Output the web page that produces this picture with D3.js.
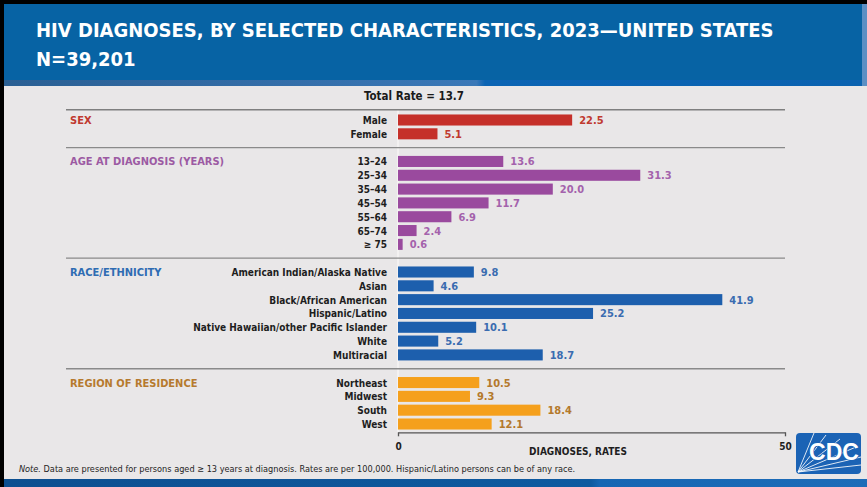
<!DOCTYPE html>
<html>
<head>
<meta charset="utf-8">
<script src="https://cdn.jsdelivr.net/npm/d3@7"></script>
<style>
  html, body { margin: 0; padding: 0; background: #000; }
  svg { display: block; }
</style>
</head>
<body>
<svg id="chart" width="867" height="487"></svg>
<script>
// ---------- DATA ----------
const titleLine1 = "HIV DIAGNOSES, BY SELECTED CHARACTERISTICS, 2023\u2014UNITED STATES";
const titleLine2 = "N=39,201";
const totalRateLabel = "Total Rate = 13.7";

const groupNames = ["SEX", "AGE AT DIAGNOSIS (YEARS)", "RACE/ETHNICITY", "REGION OF RESIDENCE"];

const sexCategories = ["Male", "Female"];
const sexValues = [22.5, 5.1];

const ageCategories = ["13\u201324", "25\u201334", "35\u201344", "45\u201354", "55\u201364", "65\u201374", "\u2265 75"];
const ageValues = [13.6, 31.3, 20.0, 11.7, 6.9, 2.4, 0.6];

const raceCategories = ["American Indian/Alaska Native", "Asian", "Black/African American", "Hispanic/Latino",
  "Native Hawaiian/other Pacific Islander", "White", "Multiracial"];
const raceValues = [9.8, 4.6, 41.9, 25.2, 10.1, 5.2, 18.7];

const regionCategories = ["Northeast", "Midwest", "South", "West"];
const regionValues = [10.5, 9.3, 18.4, 12.1];

const xDomain = [0, 50];
const xTickValues = [0, 50];
const xAxisTitle = "DIAGNOSES, RATES";
const noteItalic = "Note.";
const noteText = " Data are presented for persons aged \u2265 13 years at diagnosis. Rates are per 100,000. Hispanic/Latino persons can be of any race.";

// ---------- STYLE ----------
const groupColors = ["#c5302a", "#9a4a9e", "#1d5fad", "#f5a01c"];
const labelColors = ["#c0392f", "#a462ac", "#3a6cb0", "#b4792c"];
const headerColors = ["#c0392f", "#9c5aa3", "#2e6cb3", "#b67a2e"];
const font = "'Liberation Sans Narrow', 'Arial Narrow', 'DejaVu Sans Condensed', 'Liberation Sans', Arial, sans-serif";

const W = 867, H = 487;
const svg = d3.select("#chart");

// Background frame
svg.append("rect").attr("x", 0).attr("y", 0).attr("width", W).attr("height", H).attr("fill", "#000");
svg.append("rect").attr("x", 4).attr("y", 4).attr("width", W - 4).attr("height", H - 4).attr("fill", "#e9e7e8");

// Header
const defs = svg.append("defs");
const g1 = defs.append("linearGradient").attr("id", "stripe").attr("x1", 0).attr("x2", 1).attr("y1", 0).attr("y2", 0);
g1.append("stop").attr("offset", "0").attr("stop-color", "#2a5f93");
g1.append("stop").attr("offset", "0.55").attr("stop-color", "#3a78b8");
g1.append("stop").attr("offset", "0.56").attr("stop-color", "#0b64b4");
g1.append("stop").attr("offset", "1").attr("stop-color", "#0a62b0");
svg.append("rect").attr("x", 4).attr("y", 4).attr("width", W - 8).attr("height", 78).attr("fill", "#0763a4");
svg.append("rect").attr("x", 4).attr("y", 80).attr("width", W - 8).attr("height", 6).attr("fill", "url(#stripe)");
svg.append("rect").attr("x", W - 5).attr("y", 4).attr("width", 5).attr("height", 82).attr("fill", "#5c8fc4");

svg.append("text").attr("x", 36).attr("y", 37).attr("fill", "#fff")
  .style("font-family", font).style("font-weight", "bold").style("font-size", "20px")
  .text(titleLine1);
svg.append("text").attr("x", 36).attr("y", 66).attr("fill", "#fff")
  .style("font-family", font).style("font-weight", "bold").style("font-size", "20px")
  .text(titleLine2);

// Bottom band
const g2 = defs.append("linearGradient").attr("id", "bottom").attr("x1", 0).attr("x2", 1).attr("y1", 0).attr("y2", 0);
g2.append("stop").attr("offset", "0").attr("stop-color", "#0d4f90");
g2.append("stop").attr("offset", "0.68").attr("stop-color", "#0e5aa0");
g2.append("stop").attr("offset", "0.69").attr("stop-color", "#1666b3");
g2.append("stop").attr("offset", "1").attr("stop-color", "#1d6cb8");
svg.append("rect").attr("x", 4).attr("y", 479).attr("width", W - 4).attr("height", 8).attr("fill", "url(#bottom)");

// ---------- BUILD ROWS ----------
const groupsData = [
  { name: groupNames[0], cats: sexCategories, vals: sexValues },
  { name: groupNames[1], cats: ageCategories, vals: ageValues },
  { name: groupNames[2], cats: raceCategories, vals: raceValues },
  { name: groupNames[3], cats: regionCategories, vals: regionValues }
];
const slots = [];
const rows = [];
const gaps = [];
groupsData.forEach((g, gi) => {
  if (gi > 0) { const k = "gap" + gi; slots.push(k); gaps.push(k); }
  g.cats.forEach((c, ci) => {
    const key = gi + ":" + c;
    slots.push(key);
    rows.push({ key, cat: c, val: g.vals[ci], gi, first: ci === 0 });
  });
});

const x = d3.scaleLinear().domain(xDomain).range([398, 785]);
const y = d3.scalePoint().domain(slots).range([120, 424]);
const step = y.step();
const barH = step * 0.8;

// Vertical baseline (faint)
svg.append("line").attr("x1", x(0)).attr("x2", x(0))
  .attr("y1", y(slots[0]) - 0.75 * step).attr("y2", y(slots[slots.length - 1]) + 0.6 * step)
  .attr("stroke", "#f6f5f5").attr("stroke-width", 1.5);

// Separator lines
svg.append("line").attr("x1", 66).attr("x2", 785)
  .attr("y1", y(slots[0]) - 0.75 * step).attr("y2", y(slots[0]) - 0.75 * step)
  .attr("stroke", "#7f7f7f").attr("stroke-width", 1.5);
svg.selectAll("line.sep").data(gaps).join("line").attr("class", "sep")
  .attr("x1", 66).attr("x2", 785)
  .attr("y1", d => y(d)).attr("y2", d => y(d))
  .attr("stroke", "#8a8a8a").attr("stroke-width", 1.3);

// Total rate
svg.append("text").attr("x", 414).attr("y", 100).attr("text-anchor", "middle").attr("fill", "#1a1a1a")
  .style("font-family", font).style("font-weight", "bold").style("font-size", "11.5px")
  .text(totalRateLabel);

// Bars
svg.selectAll("rect.bar").data(rows).join("rect").attr("class", "bar")
  .attr("x", x(0)).attr("y", d => y(d.key) - barH / 2)
  .attr("width", d => x(d.val) - x(0)).attr("height", barH)
  .attr("fill", d => groupColors[d.gi]);

// Value labels
svg.selectAll("text.val").data(rows).join("text").attr("class", "val")
  .attr("x", d => x(d.val) + 7).attr("y", d => y(d.key) + 4)
  .attr("fill", d => labelColors[d.gi])
  .style("font-family", font).style("font-weight", "bold").style("font-size", "11px")
  .text(d => d.val.toFixed(1));

// Category labels
svg.selectAll("text.cat").data(rows).join("text").attr("class", "cat")
  .attr("x", 387).attr("y", d => y(d.key) + 4).attr("text-anchor", "end")
  .attr("fill", "#1e1e1e")
  .style("font-family", font).style("font-weight", "bold").style("font-size", "10px")
  .text(d => d.cat);

// Group headers
svg.selectAll("text.grp").data(rows.filter(r => r.first)).join("text").attr("class", "grp")
  .attr("x", 70).attr("y", d => y(d.key) + 4)
  .attr("fill", d => headerColors[d.gi])
  .style("font-family", font).style("font-weight", "bold").style("font-size", "11px")
  .text(d => groupNames[d.gi]);

// X axis
const axisY = y(slots[slots.length - 1]) + 0.6 * step;
const axis = svg.append("g").attr("transform", `translate(0,${axisY})`)
  .call(d3.axisBottom(x).tickValues(xTickValues).tickSize(4).tickSizeOuter(0).tickPadding(7).tickFormat(d3.format("d")));
axis.select(".domain").attr("stroke", "#555").attr("stroke-width", 1.3);
axis.selectAll(".tick line").attr("stroke", "#555").attr("stroke-width", 1.3);
axis.selectAll(".tick text").attr("fill", "#1e1e1e")
  .style("font-family", font).style("font-weight", "bold").style("font-size", "10px");

svg.append("text").attr("x", 578).attr("y", 455).attr("text-anchor", "middle").attr("fill", "#1e1e1e")
  .style("font-family", font).style("font-weight", "bold").style("font-size", "10px")
  .text(xAxisTitle);

// Note
const note = svg.append("text").attr("x", 19).attr("y", 472).attr("fill", "#1e1e1e")
  .style("font-family", font).style("font-size", "9.1px");
note.append("tspan").style("font-style", "italic").text(noteItalic);
note.append("tspan").text(noteText);

// CDC logo
const logo = svg.append("g").attr("transform", "translate(796,433)");
logo.append("rect").attr("width", 65).attr("height", 41).attr("rx", 4).attr("fill", "#1b63b5");
const rays = [[0, 41, 18, 0], [0, 41, 30, 2], [0, 41, 60, 14], [0, 41, 65, 24], [0, 41, 65, 32], [0, 41, 44, 6]];
logo.selectAll("line").data(rays).join("line")
  .attr("x1", d => d[0] + 2).attr("y1", d => d[1] - 2).attr("x2", d => d[2]).attr("y2", d => d[3])
  .attr("stroke", "#ffffff").attr("stroke-width", 1).attr("opacity", 0.85);
logo.append("text").attr("x", 38).attr("y", 27).attr("text-anchor", "middle").attr("fill", "#fff")
  .attr("stroke", "#1b63b5").attr("stroke-width", 1.5).attr("paint-order", "stroke")
  .style("font-family", "'Liberation Sans', Arial, sans-serif").style("font-weight", "bold").style("font-size", "23px")
  .text("CDC");
</script>
</body>
</html>
